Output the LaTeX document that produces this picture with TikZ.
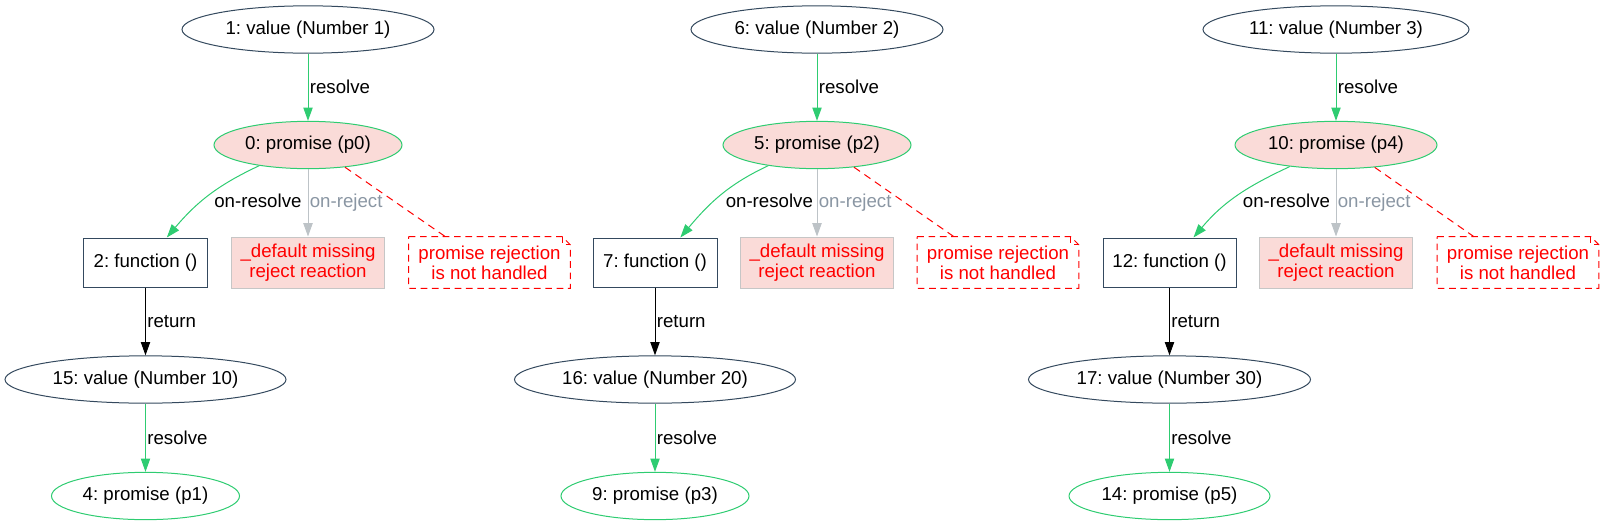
\documentclass[tikz,border=0pt]{standalone}
\usepackage{fontspec}
\setmainfont{Liberation Sans}
\usetikzlibrary{shapes.geometric,arrows.meta}
\definecolor{slate}{HTML}{34495E}
\definecolor{grn}{HTML}{2ECC71}
\definecolor{pinkfill}{HTML}{FADBD8}
\definecolor{edgegray}{HTML}{BDC3C7}
\definecolor{labelgray}{HTML}{8A96A3}
\definecolor{boxgray}{HTML}{C6C6C6}
\def\notefold(#1){\draw[notebox] (#1.north west) -- ([xshift=-6pt]#1.north east) -- ([yshift=-6pt]#1.north east) -- (#1.south east) -- (#1.south west) -- cycle; \draw[notebox] ([xshift=-6pt]#1.north east) -- ([xshift=-6pt,yshift=-6pt]#1.north east) -- ([yshift=-6pt]#1.north east);}
\frenchspacing

\begin{document}
\begin{tikzpicture}[x=0.75pt,y=-0.75pt,font=\fontsize{14pt}{15pt}\selectfont,
	valnode/.style={ellipse,draw=slate,line width=0.75pt,inner sep=0pt,minimum height=35.5pt},
	promfill/.style={ellipse,draw=grn,fill=pinkfill,line width=0.75pt,inner sep=0pt,minimum height=35.5pt},
	promplain/.style={ellipse,draw=grn,line width=0.75pt,inner sep=0pt,minimum height=35.5pt},
	funbox/.style={rectangle,draw=slate,line width=0.75pt,inner sep=0pt,minimum height=36.75pt},
	dfltbox/.style={rectangle,draw=boxgray,fill=pinkfill,line width=0.75pt,text=red,align=center,inner sep=0pt,minimum width=115pt,minimum height=38.25pt},
	noteshape/.style={rectangle,text=red,align=center,inner sep=0pt,minimum width=120.75pt,minimum height=38.25pt},
	notebox/.style={draw=red,line width=0.75pt,dash pattern=on 5pt off 3.5pt},
	gvarrow/.style={-{Triangle[length=10pt,width=7pt]}},
	resolveedge/.style={draw=grn,line width=0.75pt,gvarrow},
	rejectedge/.style={draw=edgegray,line width=0.75pt,gvarrow},
	returnedge/.style={draw=black,line width=0.75pt,gvarrow},
	unhandled/.style={draw=red,line width=0.75pt,dash pattern=on 5.5pt off 4pt},
	lbl/.style={inner sep=1pt}]
			%%%%% START %%%%%
			\def\ya{29.5}
			\def\yb{145}
			\def\yc{262.5}
			\def\yd{379.5}
			\def\ye{496}
			\def\xa{308}
			\def\fa{145.5}
			\def\na{489.5}
			\def\xb{817}
			\def\fb{655}
			\def\nb{998}
			\def\xc{1336}
			\def\fc{1169.5}
			\def\nc{1518}

			\useasboundingbox (0,0) rectangle (1603,525);

			% first chain
			\node[valnode,minimum width=189pt] (n1) at (\xa,\ya) {1: value (Number 1)};
			\node[promfill,minimum width=141pt] (n0) at (\xa,\yb) {0: promise (p0)};
			\node[funbox,minimum width=92.6pt] (n2) at (\fa,\yc) {2: function ()};
			\node[dfltbox] (dA) at (\xa,\yc) {\_default missing\\reject reaction};
			\node[noteshape] (rA) at (\na,\yc) {promise rejection\\is not handled};
			\notefold(rA)
			\node[valnode,minimum width=210.75pt] (n15) at (\fa,\yd) {15: value (Number 10)};
			\node[promplain,minimum width=141pt] (n4) at (\fa,\ye) {4: promise (p1)};

			\draw[resolveedge] (n1) -- node[lbl,midway,right] {resolve} (n0);
			\draw[resolveedge] (n0.203) to[out=-155,in=50] node[lbl,pos=0.5,anchor=west,xshift=3pt,yshift=-4pt] {on-resolve} ([xshift=16pt]n2.north);
			\draw[rejectedge] (n0) -- node[lbl,midway,right,text=labelgray] {on-reject} (dA);
			\draw[unhandled] (n0.329) -- ([xshift=-33pt]rA.north);
			\draw[returnedge] (n2) -- node[lbl,midway,right] {return} (n15);
			\draw[resolveedge] (n15) -- node[lbl,midway,right] {resolve} (n4);

			% second chain
			\node[valnode,minimum width=189pt] (n6) at (\xb,\ya) {6: value (Number 2)};
			\node[promfill,minimum width=141pt] (n5) at (\xb,\yb) {5: promise (p2)};
			\node[funbox,minimum width=93pt] (n7) at (\fb,\yc) {7: function ()};
			\node[dfltbox] (dB) at (\xb,\yc) {\_default missing\\reject reaction};
			\node[noteshape] (rB) at (\nb,\yc) {promise rejection\\is not handled};
			\notefold(rB)
			\node[valnode,minimum width=210.75pt] (n16) at (\fb,\yd) {16: value (Number 20)};
			\node[promplain,minimum width=141pt] (n9) at (\fb,\ye) {9: promise (p3)};

			\draw[resolveedge] (n6) -- node[lbl,midway,right] {resolve} (n5);
			\draw[resolveedge] (n5.203) to[out=-155,in=50] node[lbl,pos=0.5,anchor=west,xshift=3pt,yshift=-4pt] {on-resolve} ([xshift=19pt]n7.north);
			\draw[rejectedge] (n5) -- node[lbl,midway,right,text=labelgray] {on-reject} (dB);
			\draw[unhandled] (n5.329) -- ([xshift=-33pt]rB.north);
			\draw[returnedge] (n7) -- node[lbl,midway,right] {return} (n16);
			\draw[resolveedge] (n16) -- node[lbl,midway,right] {resolve} (n9);

			% third chain
			\node[valnode,minimum width=199.5pt] (n11) at (\xc,\ya) {11: value (Number 3)};
			\node[promfill,minimum width=151.5pt] (n10) at (\xc,\yb) {10: promise (p4)};
			\node[funbox,minimum width=99.75pt] (n12) at (\fc,\yc) {12: function ()};
			\node[dfltbox] (dC) at (\xc,\yc) {\_default missing\\reject reaction};
			\node[noteshape] (rC) at (\nc,\yc) {promise rejection\\is not handled};
			\notefold(rC)
			\node[valnode,minimum width=211.5pt] (n17) at (\fc,\yd) {17: value (Number 30)};
			\node[promplain,minimum width=150.75pt] (n14) at (\fc,\ye) {14: promise (p5)};

			\draw[resolveedge] (n11) -- node[lbl,midway,right] {resolve} (n10);
			\draw[resolveedge] (n10.205) to[out=-155,in=50] node[lbl,pos=0.5,anchor=west,xshift=3pt,yshift=-4pt] {on-resolve} ([xshift=18pt]n12.north);
			\draw[rejectedge] (n10) -- node[lbl,midway,right,text=labelgray] {on-reject} (dC);
			\draw[unhandled] (n10.330) -- ([xshift=-33pt]rC.north);
			\draw[returnedge] (n12) -- node[lbl,midway,right] {return} (n17);
			\draw[resolveedge] (n17) -- node[lbl,midway,right] {resolve} (n14);
			%%%%% END %%%%%
\end{tikzpicture}
\end{document}
